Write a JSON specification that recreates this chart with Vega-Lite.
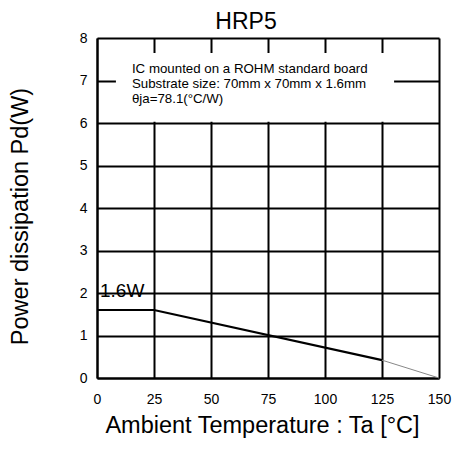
{
  "$schema": "https://vega.github.io/schema/vega-lite/v6.json",
  "width": 342,
  "height": 340,
  "autosize": "none",
  "padding": {"left": 97, "top": 38, "right": 13, "bottom": 72},
  "background": "white",
  "title": {"text": "HRP5", "fontSize": 23, "font": "Liberation Sans", "fontWeight": "normal", "color": "black", "anchor": "middle", "dx": -22, "offset": -3},
  "config": {
    "view": {"stroke": null},
    "font": "Liberation Sans",
    "axis": {
      "grid": true, "gridColor": "black", "gridWidth": 2, "gridOpacity": 1,
      "domainColor": "black", "domainWidth": 2,
      "ticks": false,
      "labelFont": "Liberation Sans", "labelFontSize": 14, "labelColor": "black",
      "titleFont": "Liberation Sans", "titleFontWeight": "normal", "titleColor": "black", "titleFontSize": 23.5
    }
  },
  "datasets": {
    "derating": [
      {"ta": 0, "pd": 1.6, "seg": "main"},
      {"ta": 25, "pd": 1.6, "seg": "main"},
      {"ta": 125, "pd": 0.42, "seg": "main"},
      {"ta": 125, "pd": 0.42, "seg": "tail"},
      {"ta": 150, "pd": 0, "seg": "tail"}
    ],
    "box": [{"x1": 8.3, "x2": 130.3, "y1": 6.03, "y2": 7.65}],
    "notes": [
      {"x": 15.3, "y": 7.18, "label": "IC mounted on a ROHM standard board"},
      {"x": 15.3, "y": 6.82, "label": "Substrate size: 70mm x 70mm x 1.6mm"},
      {"x": 15.3, "y": 6.47, "label": "θja=78.1(°C/W)"}
    ],
    "pdlabel": [{"x": 1.3, "y": 1.9, "label": "1.6W"}]
  },
  "layer": [
    {
      "data": {"name": "derating"},
      "transform": [{"filter": "datum.seg == 'main'"}],
      "mark": {"type": "line", "color": "black", "strokeWidth": 2.2},
      "encoding": {
        "x": {"field": "ta", "type": "quantitative", "scale": {"domain": [0, 150], "nice": false},
              "axis": {"values": [0, 25, 50, 75, 100, 125, 150], "title": "Ambient Temperature : Ta [°C]", "labelPadding": 14, "labelFlush": false,
                       "titleX": 165, "titleY": 54, "titleBaseline": "alphabetic", "titleAlign": "center"}},
        "y": {"field": "pd", "type": "quantitative", "scale": {"domain": [0, 8], "nice": false},
              "axis": {"values": [0, 1, 2, 3, 4, 5, 6, 7, 8], "title": "Power dissipation Pd(W)", "labelPadding": 10, "labelFlush": false,
                       "titleX": -70, "titleY": 178, "titleAngle": -90, "titleBaseline": "alphabetic", "titleAlign": "center"}}
      }
    },
    {
      "data": {"name": "derating"},
      "transform": [{"filter": "datum.seg == 'tail'"}],
      "mark": {"type": "line", "color": "#888888", "strokeWidth": 1},
      "encoding": {
        "x": {"field": "ta", "type": "quantitative"},
        "y": {"field": "pd", "type": "quantitative"}
      }
    },
    {
      "data": {"name": "box"},
      "mark": {"type": "rect", "fill": "white", "stroke": null},
      "encoding": {
        "x": {"field": "x1", "type": "quantitative"},
        "x2": {"field": "x2"},
        "y": {"field": "y1", "type": "quantitative"},
        "y2": {"field": "y2"}
      }
    },
    {
      "data": {"name": "notes"},
      "mark": {"type": "text", "align": "left", "baseline": "alphabetic", "fontSize": 13.3, "color": "black"},
      "encoding": {
        "x": {"field": "x", "type": "quantitative"},
        "y": {"field": "y", "type": "quantitative"},
        "text": {"field": "label"}
      }
    },
    {
      "data": {"name": "pdlabel"},
      "mark": {"type": "text", "align": "left", "baseline": "alphabetic", "fontSize": 19, "color": "black"},
      "encoding": {
        "x": {"field": "x", "type": "quantitative"},
        "y": {"field": "y", "type": "quantitative"},
        "text": {"field": "label"}
      }
    }
  ]
}
